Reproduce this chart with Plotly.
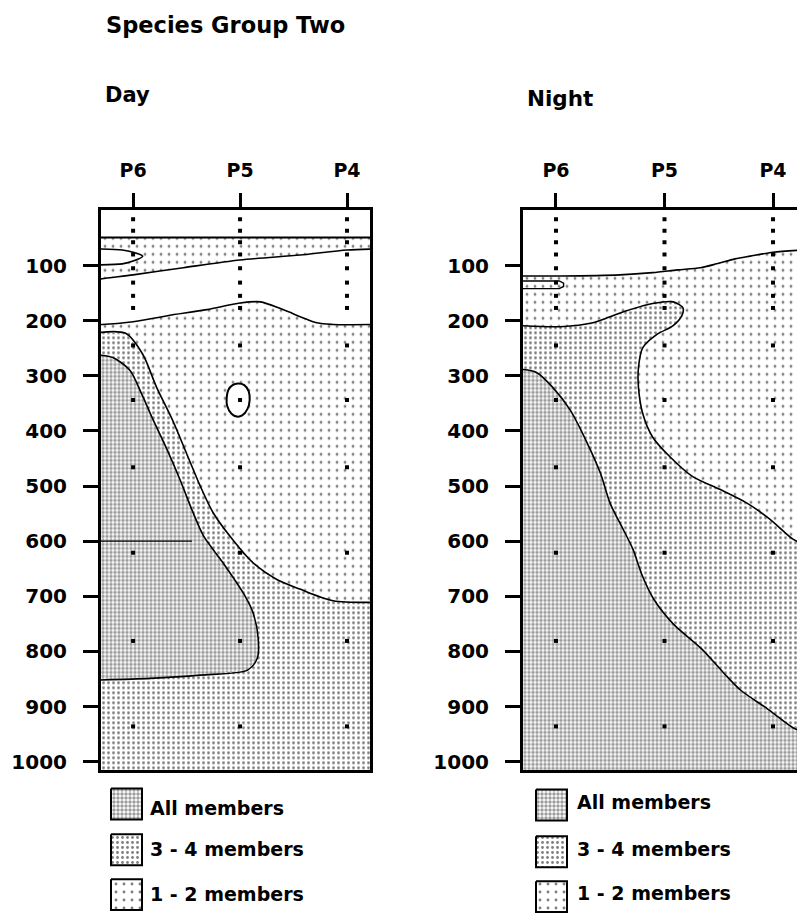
import plotly.graph_objects as go

W, H = 797, 917

# ---------------- data ----------------
STATIONS = ["P6", "P5", "P4"]
STATION_POS = [0, 1, 2]
DEPTH_TICKS = [100, 200, 300, 400, 500, 600, 700, 800, 900, 1000]

SAMPLE_DEPTHS_UPPER = [16, 37, 58, 80, 105, 131, 155, 177]
SAMPLE_DEPTHS_LOWER = [245, 344, 466, 621, 781, 936]

EDGE_L, EDGE_R, SECTION_BOTTOM = -0.34, 2.26, 1100

# Day: near-surface 1-2 member band
DAY_BAND_TOP_S = [EDGE_L, EDGE_R]
DAY_BAND_TOP_D = [49, 49]
DAY_BAND_BOT_S = [EDGE_L, -0.29, 0.0, 0.47, 1.0, 1.56, 2.0, EDGE_R]
DAY_BAND_BOT_D = [126, 124, 117, 104, 90, 81, 72, 70]
# Day: empty tongue at P6 near 80 m
DAY_LOBE_S = [EDGE_L, -0.10, 0.0, 0.09, 0.0, -0.10, EDGE_L]
DAY_LOBE_D = [70, 72, 76, 83, 92, 97, 99]
# Day: upper limit of 1-2 members (deep)
DAY_12_S = [EDGE_L, -0.29, 0.0, 0.32, 0.69, 1.0, 1.19, 1.40, 1.72, 1.87, EDGE_R]
DAY_12_D = [207, 207, 202, 191, 180, 168, 166, 180, 204, 207, 207]
# Day: 3-4 members limit
DAY_34_S = [EDGE_L, -0.07, 0.09, 0.22, 0.37, 0.50, 0.63, 0.75, 0.93, 1.12, 1.34, 1.56, 1.87, EDGE_R]
DAY_34_D = [222, 223, 261, 321, 381, 441, 501, 549, 597, 639, 669, 687, 708, 711]
# Day: all members limit
DAY_ALL_S = [EDGE_L, -0.19, -0.03, 0.08, 0.19, 0.32, 0.44, 0.55, 0.66, 0.84, 1.03, 1.12, 1.17,
             1.16, 1.07, 0.63, 0.16, EDGE_L]
DAY_ALL_D = [262, 267, 290, 333, 381, 435, 489, 543, 591, 639, 694, 729, 777,
             813, 834, 843, 849, 852]
# Day: empty pocket at P5
DAY_POCKET_S = [0.98, 1.04, 1.08, 1.09, 1.07, 1.02, 0.97, 0.92, 0.88, 0.875, 0.89, 0.93, 0.98]
DAY_POCKET_D = [314, 317, 328, 344, 360, 372, 374, 369, 355, 340, 326, 317, 314]
# Day: 600 m line
DAY_600_S = [EDGE_L, 0.55]
DAY_600_D = [600, 600]

# Night: upper limit of 1-2 members
NIGHT_12_S = [EDGE_L, 0.04, 0.59, 0.89, 1.12, 1.33, 1.48, 1.65, 1.79, 2.0, EDGE_R]
NIGHT_12_D = [119, 119, 117, 113, 108, 104, 97, 88, 83, 76, 72]
# Night: small tongue at P6
NIGHT_LOBE_S = [EDGE_L, 0.03, 0.07, 0.07, 0.03, EDGE_L]
NIGHT_LOBE_D = [128, 128, 132, 138, 142, 142]
# Night: 3-4 members limit
NIGHT_34_S = [EDGE_L, 0.04, 0.34, 0.59, 0.89, 1.08, 1.17, 1.16, 1.08, 0.93, 0.80, 0.76, 0.76,
              0.80, 0.89, 1.05, 1.26, 1.51, 1.76, 1.97, 2.18, EDGE_R]
NIGHT_34_D = [209, 211, 204, 186, 169, 166, 177, 191, 209, 225, 249, 285, 321,
              369, 411, 447, 483, 506, 531, 560, 596, 604]
# Night: all members limit
NIGHT_ALL_S = [EDGE_L, -0.18, -0.03, 0.13, 0.29, 0.41, 0.50, 0.61, 0.71, 0.79, 0.90, 1.08,
               1.34, 1.55, 1.70, 1.94, 2.18, EDGE_R]
NIGHT_ALL_D = [288, 294, 321, 362, 423, 477, 532, 575, 615, 660, 705, 750,
               795, 840, 870, 903, 938, 945]

LEGEND_LABELS = ["All members", "3 - 4 members", "1 - 2 members"]

# ---------------- styles ----------------
FONT = "DejaVu Sans"
PAT_ALL = dict(shape=".", size=4, solidity=0.6, fgcolor="#3a3a3a", bgcolor="white")
PAT_34 = dict(shape=".", size=5, solidity=0.25, fgcolor="black", bgcolor="white")
PAT_12 = dict(shape=".", size=8, solidity=0.1, fgcolor="black", bgcolor="white")

fig = go.Figure()


def fill(xs, ys, pat, ax, white=False):
    kw = dict(x=xs, y=ys, mode="lines", fill="toself", line=dict(width=0),
              hoverinfo="skip", showlegend=False, xaxis="x" + ax, yaxis="y" + ax,
              fillcolor="white")
    if not white:
        kw["fillpattern"] = pat
    fig.add_trace(go.Scatter(**kw))


def line(xs, ys, ax, width=1.6, spline=True):
    fig.add_trace(go.Scatter(x=xs, y=ys, mode="lines",
                             line=dict(color="black", width=width,
                                       shape="spline" if spline else "linear", smoothing=0.8),
                             hoverinfo="skip", showlegend=False,
                             xaxis="x" + ax, yaxis="y" + ax))


def dots(ax):
    xs, ys = [], []
    for p in STATION_POS:
        for d in SAMPLE_DEPTHS_UPPER + SAMPLE_DEPTHS_LOWER:
            xs.append(p)
            ys.append(d)
    fig.add_trace(go.Scatter(x=xs, y=ys, mode="markers",
                             marker=dict(color="black", size=4, symbol="square"),
                             hoverinfo="skip", showlegend=False,
                             xaxis="x" + ax, yaxis="y" + ax))


# ----- Day (axes 1) -----
A = ""
fill(DAY_12_S + [EDGE_R, EDGE_L], DAY_12_D + [SECTION_BOTTOM, SECTION_BOTTOM], PAT_12, A)
fill(DAY_34_S + [EDGE_R, EDGE_L], DAY_34_D + [SECTION_BOTTOM, SECTION_BOTTOM], PAT_34, A)
fill(DAY_ALL_S, DAY_ALL_D, PAT_ALL, A)
fill(DAY_BAND_TOP_S + DAY_BAND_BOT_S[::-1], DAY_BAND_TOP_D + DAY_BAND_BOT_D[::-1], PAT_12, A)
fill(DAY_LOBE_S, DAY_LOBE_D, None, A, white=True)
fill(DAY_POCKET_S, DAY_POCKET_D, None, A, white=True)
line(DAY_BAND_TOP_S, DAY_BAND_TOP_D, A, width=2, spline=False)
line(DAY_BAND_BOT_S, DAY_BAND_BOT_D, A)
line(DAY_LOBE_S, DAY_LOBE_D, A)
line(DAY_12_S, DAY_12_D, A)
line(DAY_34_S, DAY_34_D, A)
line(DAY_ALL_S, DAY_ALL_D, A)
line(DAY_POCKET_S, DAY_POCKET_D, A, width=2)
line(DAY_600_S, DAY_600_D, A, width=1.2, spline=False)
dots(A)

# ----- Night (axes 2) -----
A = "2"
fill(NIGHT_12_S + [EDGE_R, EDGE_L], NIGHT_12_D + [SECTION_BOTTOM, SECTION_BOTTOM], PAT_12, A)
fill(NIGHT_34_S + [EDGE_R, EDGE_L], NIGHT_34_D + [SECTION_BOTTOM, SECTION_BOTTOM], PAT_34, A)
fill(NIGHT_ALL_S + [EDGE_R, EDGE_L], NIGHT_ALL_D + [SECTION_BOTTOM, SECTION_BOTTOM], PAT_ALL, A)
line(NIGHT_12_S, NIGHT_12_D, A)
line(NIGHT_LOBE_S, NIGHT_LOBE_D, A, spline=False, width=1.4)
line(NIGHT_34_S, NIGHT_34_D, A)
line(NIGHT_ALL_S, NIGHT_ALL_D, A)
dots(A)

# ----- legend swatches on an overlay (pixel) axis -----
LEG_PATS = [PAT_ALL, PAT_34, PAT_12]
SW = 31
leg_left = dict(x=111, ys=[792, 838, 883], tx=148, tys=[812, 853, 898])
leg_right = dict(x=536, ys=[793, 840, 885], tx=575, tys=[806, 853, 897])
annotations = []
for lg in (leg_left, leg_right):
    for lab, pat, y0, ty in zip(LEGEND_LABELS, LEG_PATS, lg["ys"], lg["tys"]):
        x0 = lg["x"]
        fig.add_trace(go.Scatter(
            x=[x0, x0 + SW, x0 + SW, x0, x0], y=[y0, y0, y0 + SW, y0 + SW, y0],
            mode="lines", fill="toself", fillcolor="white", fillpattern=pat,
            line=dict(color="black", width=2), hoverinfo="skip", showlegend=False,
            xaxis="x3", yaxis="y3"))
        annotations.append(dict(x=lg["tx"] / W, y=1 - ty / H, xref="paper", yref="paper",
                                text=lab, showarrow=False, xanchor="left", yanchor="middle",
                                font=dict(family=FONT, size=19, color="black", weight="bold")))

# titles
for txt, x, y, s in [("Species Group Two", 104, 25, 22.5),
                     ("Day", 103, 95, 21),
                     ("Night", 525, 99, 21.5)]:
    annotations.append(dict(x=x / W, y=1 - y / H, xref="paper", yref="paper", text=txt,
                            showarrow=False, xanchor="left", yanchor="middle",
                            font=dict(family=FONT, size=s, color="black", weight="bold")))

TOP, BOT = 211.3, 773.3
ydom = [1 - BOT / H, 1 - TOP / H]


def xax(dom, rng):
    return dict(domain=dom, range=rng, side="top", tickvals=STATION_POS, ticktext=STATIONS,
                ticks="outside", ticklen=14, tickwidth=3, tickcolor="black",
                showline=True, linewidth=3, linecolor="black", mirror=True,
                showgrid=False, zeroline=False, ticklabelstandoff=9,
                tickfont=dict(family=FONT, size=19, color="black", weight="bold"),
                fixedrange=True)


def yax(anchor, mirror=True):
    return dict(domain=ydom, range=[1015, 0], tickvals=DEPTH_TICKS,
                ticks="outside", ticklen=15, tickwidth=3, tickcolor="black",
                showline=True, linewidth=3, linecolor="black", mirror=mirror,
                showgrid=False, zeroline=False, ticklabelstandoff=12,
                tickfont=dict(family=FONT, size=20, color="black", weight="bold"),
                fixedrange=True, anchor=anchor)


fig.update_layout(
    width=W, height=H, margin=dict(l=0, r=0, t=0, b=0),
    paper_bgcolor="white", plot_bgcolor="rgba(0,0,0,0)",
    xaxis=dict(**xax([101 / W, 370 / W], [-0.30, 2.215]), anchor="y"),
    yaxis=yax("x"),
    xaxis2=dict(**xax([523 / W, 1.0], [-0.304, 2.221]), anchor="y2"),
    yaxis2=yax("x2", mirror=False),
    xaxis3=dict(domain=[0, 1], range=[0, W], visible=False, fixedrange=True, anchor="y3"),
    yaxis3=dict(domain=[0, 1], range=[H, 0], visible=False, fixedrange=True, anchor="x3"),
    annotations=annotations,
    showlegend=False,
)

fig.write_html("out.html")
